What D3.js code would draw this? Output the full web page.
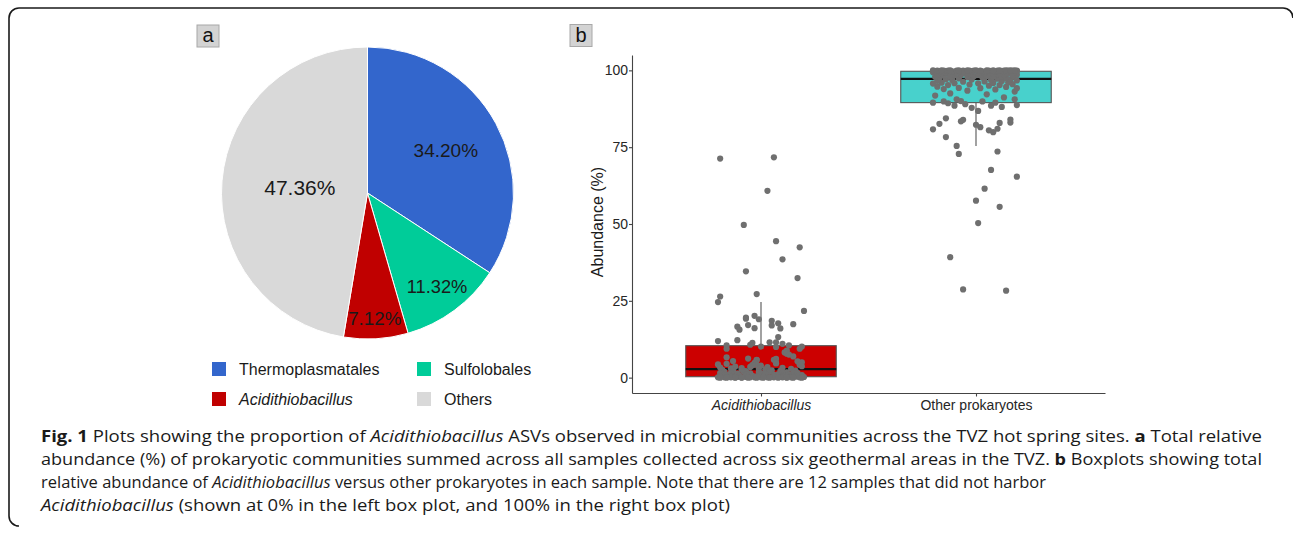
<!DOCTYPE html>
<html>
<head>
<meta charset="utf-8">
<script src="https://cdn.jsdelivr.net/npm/d3@7"></script>
<style>
  html, body { margin: 0; padding: 0; background: #fff; }
  svg { display: block; }
</style>
</head>
<body>
<svg id="fig" width="1293" height="538"></svg>
<script>
// ---- Panel a: pooled relative abundance by taxon ----
const taxa = ["Thermoplasmatales", "Sulfolobales", "Acidithiobacillus", "Others"];
const taxaShare = [34.20, 11.32, 7.12, 47.36];
const taxaColors = ["#3366CC", "#00CC99", "#C00000", "#D9D9D9"];
const taxaItalic = [false, false, true, false];

// ---- Panel b: per-sample abundance (%) ----
const groups = ["Acidithiobacillus", "Other prokaryotes"];
const groupColors = ["#CC0000", "#48D1CC"];
const yTicks = [0, 25, 50, 75, 100];

const acidiAbundance = [
  71.7, 71.3, 60.8, 49.7, 44.4, 42.4, 38.5, 34.6, 32.4, 27.2, 26.4, 24.6, 21.7,
  20.1, 19.5, 19.2, 19.0, 18.5, 17.7, 17.4, 17.1, 17.0, 16.6, 16.1, 16.0, 15.6, 13.2,
  12.2, 11.9, 11.5, 11.5, 11.3, 11.0, 10.7, 10.5, 10.5, 10.1, 10.1, 10.0, 9.4, 9.4,
  8.8, 8.2, 7.8, 7.5, 6.9, 6.6, 6.2, 6.1, 5.8, 5.8, 5.7, 5.4, 5.3, 5.0, 4.8, 4.8, 4.6, 4.5, 4.3, 4.2,
  4.2, 4.1, 4.0, 3.9, 3.7, 3.6, 3.5, 3.4, 3.3, 3.2, 3.1, 3.0, 2.9, 2.9,
  2.7, 2.6, 2.5, 2.4, 2.3, 2.2, 2.2, 2.1, 2.1, 2.1, 2.0, 1.9, 1.8, 1.7, 1.6, 1.5, 1.5, 1.5, 1.5,
  1.4, 1.4, 1.3, 1.2, 1.2, 1.1, 1.0, 1.0, 0.9, 0.9, 0.8, 0.8, 0.7, 0.7, 0.6, 0.6, 0.5, 0.5, 0.4,
  0.3, 0.3, 0.3, 0.3, 0.3, 0.3, 0.2, 0.2, 0.2, 0.2, 0.2, 0.2, 0.2,
  0.1, 0.1, 0.1, 0.1, 0.1, 0.1, 0.1, 0.1, 0.1, 0.1, 0.1, 0.1, 0.1, 0.1,
  0, 0, 0, 0, 0, 0, 0, 0, 0, 0, 0, 0
];
// horizontal jitter of each point, in category units
const acidiJitter = [
  0.06, -0.19, 0.03, -0.08, 0.07, 0.18, 0.10, -0.07, 0.17, -0.02, -0.19, -0.20, 0.20,
  -0.03, -0.07, -0.07, -0.01, 0.05, 0.08, 0.15, -0.06, 0.05, -0.11, -0.03, 0.09, -0.10, 0.08,
  -0.11, -0.20, 0.04, 0.07, -0.04, 0.10, -0.05, 0.13, -0.16, 0.00, 0.19, 0.07, -0.16, 0.18,
  0.12, 0.11, 0.12, 0.13, 0.15, -0.16, -0.06, 0.07, -0.02, 0.06, -0.02, -0.13, 0.17, 0.19, -0.03, 0.07, 0.07, -0.16, -0.20, -0.02,
  0.18, -0.04, -0.04, 0.00, 0.19, -0.12, -0.05, 0.03, -0.19, 0.10, -0.09, -0.14, 0.14, -0.01,
  0.02, -0.09, -0.18, 0.05, 0.16, -0.13, 0.09, -0.08, -0.07, 0.04, 0.16, -0.17, -0.01, 0.12, 0.10, -0.19, -0.14, 0.15, 0.17,
  -0.05, 0.00, -0.11, -0.18, 0.02, 0.08, 0.13, -0.07, 0.06, -0.15, -0.17, 0.19, -0.10, 0.11, -0.04, 0.08, -0.15, 0.14, -0.02,
  -0.13, 0.11, -0.06, 0.17, 0.01, -0.19, -0.07, 0.20, -0.16, 0.09, 0.04, -0.11, 0.15,
  -0.20, -0.14, -0.09, -0.03, 0.03, 0.06, 0.10, 0.14, 0.18, -0.17, -0.12, -0.05, 0.00, 0.12,
  -0.19, -0.16, -0.12, -0.09, -0.06, -0.02, 0.01, 0.04, 0.08, 0.12, 0.15, 0.19
];

const otherAbundance = [
  28.3, 28.7, 39.2, 50.3, 55.6, 57.6, 61.5, 65.4, 67.6, 72.8, 73.6, 75.4, 78.3,
  79.9, 80.5, 80.8, 81.0, 81.5, 82.3, 82.6, 82.9, 83.0, 83.4, 83.9, 84.0, 84.4, 86.8,
  87.8, 88.1, 88.5, 88.5, 88.7, 89.0, 89.3, 89.5, 89.5, 89.9, 89.9, 90.0, 90.6, 90.6,
  91.2, 91.8, 92.2, 92.5, 93.1, 93.4, 93.8, 93.9, 94.2, 94.2, 94.3, 94.6, 94.7, 95.0, 95.2, 95.2, 95.4, 95.5, 95.7, 95.8,
  95.8, 95.9, 96.0, 96.1, 96.3, 96.4, 96.5, 96.6, 96.7, 96.8, 96.9, 97.0, 97.1, 97.1,
  97.3, 97.4, 97.5, 97.6, 97.7, 97.8, 97.8, 97.9, 97.9, 97.9, 98.0, 98.1, 98.2, 98.3, 98.4, 98.5, 98.5, 98.5, 98.5,
  98.6, 98.6, 98.7, 98.8, 98.8, 98.9, 99.0, 99.0, 99.1, 99.1, 99.2, 99.2, 99.3, 99.3, 99.4, 99.4, 99.5, 99.5, 99.6,
  99.7, 99.7, 99.7, 99.7, 99.7, 99.7, 99.8, 99.8, 99.8, 99.8, 99.8, 99.8, 99.8,
  99.9, 99.9, 99.9, 99.9, 99.9, 99.9, 99.9, 99.9, 99.9, 99.9, 99.9, 99.9, 99.9, 99.9,
  100, 100, 100, 100, 100, 100, 100, 100, 100, 100, 100, 100
];
const otherJitter = [
  0.14, -0.06, -0.12, 0.01, 0.11, 0.00, 0.04, 0.19, 0.07, -0.08, 0.10, -0.09, -0.14,
  0.08, 0.06, -0.20, 0.10, 0.02, 0.00, -0.17, 0.11, 0.16, -0.07, -0.06, 0.16, -0.14, 0.01,
  -0.02, 0.12, 0.07, -0.10, 0.19, -0.05, -0.13, -0.20, 0.09, -0.15, 0.03, -0.07, 0.18, -0.09,
  0.13, -0.19, 0.05, -0.12, 0.18, -0.04, 0.09, -0.15, 0.02, 0.19, -0.08, 0.14, -0.18, 0.06, -0.13, 0.11, -0.03, 0.17, -0.20, 0.01,
  -0.10, 0.08, -0.16, 0.15, -0.06, 0.04, 0.12, -0.18, 0.19, -0.11, 0.07, -0.02, 0.16, -0.14,
  0.10, -0.08, 0.14, -0.17, 0.03, -0.04, 0.18, -0.12, 0.08, -0.19, 0.12, -0.01, 0.05, -0.15, 0.17, -0.07, 0.01, 0.13, -0.10,
  0.19, -0.18, 0.06, -0.03, 0.10, -0.13, 0.15, -0.05, 0.08, -0.16, 0.02, -0.09, 0.18, -0.14, 0.04, -0.20, 0.11, -0.06, 0.14,
  0.16, -0.11, 0.03, -0.17, 0.09, -0.02, -0.08, 0.12, 0.19, -0.14, -0.04, 0.07, -0.19,
  0.06, -0.13, 0.17, -0.01, -0.18, 0.10, 0.02, -0.09, 0.15, -0.06, 0.13, -0.15, 0.19, -0.03,
  -0.20, 0.08, -0.12, 0.18, -0.04, 0.14, -0.16, 0.00, 0.11, -0.08, 0.05, 0.16
];

// box-and-whisker summaries (Acidithiobacillus, Other prokaryotes)
const boxWhiskerLow = [0, 75.4];
const boxQ1 = [0.3, 89.5];
const boxMedian = [2.8, 97.2];
const boxQ3 = [10.4, 99.7];
const boxWhiskerHigh = [24.6, 100];

const FONT = "'Liberation Sans', Arial, sans-serif";
const svg = d3.select("#fig");

// ---- rounded figure frame ----
svg.append("path")
  .attr("d", "M1293,18 A10,10 0 0 0 1283,8 L19,8 A10,10 0 0 0 9,18 L9,516 A10,10 0 0 0 19,526")
  .attr("fill", "none").attr("stroke", "#1a1a1a").attr("stroke-width", 1.6);

// ---- panel tags ----
function panelTag(x, y, letter) {
  const g = svg.append("g").attr("transform", `translate(${x},${y})`);
  g.append("rect").attr("width", 22).attr("height", 22)
    .attr("fill", "#D3D3D3").attr("stroke", "#A8A8A8").attr("stroke-width", 1);
  g.append("text").attr("x", 11).attr("y", 17).attr("text-anchor", "middle")
    .attr("font-family", FONT).attr("font-size", 20).attr("fill", "#111").text(letter);
}
panelTag(197, 25, "a");
panelTag(570, 24.5, "b");

// ---- panel a: pie ----
const pieCx = 367.5, pieCy = 193, pieR = 146;
const labelRadiusFrac = [0.61, 0.80, 0.86, 0.465];
const labelFontSize = [19, 18.3, 18.8, 21];
const pieData = d3.pie().sort(null).value(d => d.v)(taxa.map((t, i) => ({ t, v: taxaShare[i], i })));
const arc = d3.arc().innerRadius(0).outerRadius(pieR);
const gPie = svg.append("g").attr("transform", `translate(${pieCx},${pieCy})`);
gPie.selectAll("path.slice").data(pieData).join("path")
  .attr("class", "slice")
  .attr("d", arc)
  .attr("fill", d => taxaColors[d.data.i])
  .attr("stroke", "#fff").attr("stroke-width", 1);
gPie.selectAll("text.pct").data(pieData).join("text")
  .attr("class", "pct")
  .attr("transform", d => {
    const r = pieR * labelRadiusFrac[d.data.i];
    const c = d3.arc().innerRadius(r).outerRadius(r).centroid(d);
    return `translate(${c[0]},${c[1]})`;
  })
  .attr("text-anchor", "middle").attr("dominant-baseline", "central")
  .attr("font-family", FONT).attr("font-size", d => labelFontSize[d.data.i]).attr("fill", "#1a1a1a")
  .text(d => d.data.v.toFixed(2) + "%");

// legend (2 x 2)
const legCols = [212, 417], legRows = [362, 392];
const gLeg = svg.append("g");
taxa.forEach((t, i) => {
  const x = legCols[i % 2], y = legRows[Math.floor(i / 2)];
  gLeg.append("rect").attr("x", x).attr("y", y).attr("width", 14).attr("height", 14)
    .attr("fill", taxaColors[i]);
  gLeg.append("text").attr("x", x + 27).attr("y", y + 13)
    .attr("font-family", FONT).attr("font-size", 16).attr("fill", "#1a1a1a")
    .attr("font-style", taxaItalic[i] ? "italic" : "normal")
    .text(t);
});

// ---- panel b: box plots with jittered samples ----
const plotL = 632, plotR = 1105, plotT = 55, plotB = 393;
const x = d3.scaleLinear().domain([0.4, 2.6]).range([plotL, plotR]);
const y = d3.scaleLinear().domain([-5, 105]).range([plotB, plotT]);
const boxHalf = 0.35;
const gB = svg.append("g");

groups.forEach((g, i) => {
  const cx = x(i + 1);
  // whiskers
  gB.append("line").attr("x1", cx).attr("x2", cx)
    .attr("y1", y(boxQ3[i])).attr("y2", y(boxWhiskerHigh[i]))
    .attr("stroke", "#555").attr("stroke-width", 1.1);
  gB.append("line").attr("x1", cx).attr("x2", cx)
    .attr("y1", y(boxQ1[i])).attr("y2", y(boxWhiskerLow[i]))
    .attr("stroke", "#555").attr("stroke-width", 1.1);
  // box
  gB.append("rect")
    .attr("x", x(i + 1 - boxHalf)).attr("width", x(i + 1 + boxHalf) - x(i + 1 - boxHalf))
    .attr("y", y(boxQ3[i])).attr("height", y(boxQ1[i]) - y(boxQ3[i]))
    .attr("fill", groupColors[i]).attr("stroke", "#555").attr("stroke-width", 1.1);
  // median
  gB.append("line")
    .attr("x1", x(i + 1 - boxHalf)).attr("x2", x(i + 1 + boxHalf))
    .attr("y1", y(boxMedian[i])).attr("y2", y(boxMedian[i]))
    .attr("stroke", "#111").attr("stroke-width", 2.2);
});

const samples = [
  ...acidiAbundance.map((v, k) => ({ g: 1, v, j: acidiJitter[k] })),
  ...otherAbundance.map((v, k) => ({ g: 2, v, j: otherJitter[k] }))
];
gB.selectAll("circle.pt").data(samples).join("circle")
  .attr("class", "pt")
  .attr("cx", d => x(d.g + d.j)).attr("cy", d => y(d.v))
  .attr("r", 3.1).attr("fill", "#6F6F6F");

// axes
const yAxis = d3.axisLeft(y).tickValues(yTicks).tickSize(3).tickSizeOuter(0).tickPadding(1);
const gy = svg.append("g").attr("transform", `translate(${plotL},0)`).call(yAxis);
gy.selectAll("text").attr("font-family", FONT).attr("font-size", 14).attr("fill", "#262626");
gy.selectAll("line, path").attr("stroke", "#444").attr("stroke-width", 1.1);

const xAxis = d3.axisBottom(x).tickValues([1, 2]).tickFormat(v => groups[v - 1])
  .tickSize(3.5).tickSizeOuter(0).tickPadding(4);
const gx = svg.append("g").attr("transform", `translate(0,${plotB})`).call(xAxis);
gx.selectAll("text").attr("font-family", FONT).attr("font-size", 14).attr("fill", "#262626")
  .attr("font-style", (d, i) => i === 0 ? "italic" : "normal");
gx.selectAll("line, path").attr("stroke", "#444").attr("stroke-width", 1.1);

svg.append("text")
  .attr("transform", `translate(603,${(plotT + plotB) / 2 - 2}) rotate(-90)`)
  .attr("text-anchor", "middle")
  .attr("font-family", FONT).attr("font-size", 16).attr("fill", "#1a1a1a")
  .text("Abundance (%)");

// ---- caption ----
const captionLines = [
  [["Fig. 1", "b"], [" Plots showing the proportion of ", ""], ["Acidithiobacillus", "i"],
   [" ASVs observed in microbial communities across the TVZ hot spring sites. ", ""], ["a", "b"], [" Total relative", ""]],
  [["abundance (%) of prokaryotic communities summed across all samples collected across six geothermal areas in the TVZ. ", ""],
   ["b", "b"], [" Boxplots showing total", ""]],
  [["relative abundance of ", ""], ["Acidithiobacillus", "i"],
   [" versus other prokaryotes in each sample. Note that there are 12 samples that did not harbor", ""]],
  [["Acidithiobacillus", "i"], [" (shown at 0% in the left box plot, and 100% in the right box plot)", ""]]
];
const captionWidths = [1221, 1221, 1005, 689];
const capX = 41, capY0 = 442, capDy = 23;
captionLines.forEach((parts, li) => {
  const t = svg.append("text")
    .attr("x", capX).attr("y", capY0 + li * capDy)
    .attr("font-family", "'Open Sans', 'Noto Sans', sans-serif")
    .attr("font-size", 16.5).attr("fill", "#1a1a1a")
    .attr("xml:space", "preserve").style("white-space", "pre");
  parts.forEach(([s, st]) => {
    t.append("tspan")
      .attr("font-weight", st === "b" ? "bold" : "normal")
      .attr("font-style", st === "i" ? "italic" : "normal")
      .text(s);
  });
  t.attr("textLength", captionWidths[li]).attr("lengthAdjust", "spacingAndGlyphs");
});
</script>
</body>
</html>
